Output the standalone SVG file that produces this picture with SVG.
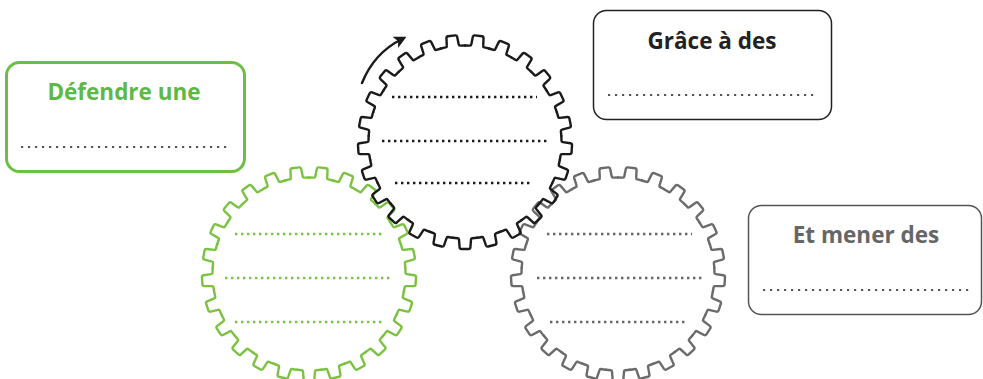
<svg xmlns="http://www.w3.org/2000/svg" xmlns:xlink="http://www.w3.org/1999/xlink" width="983" height="379" viewBox="0 0 983 379">
<style>
.gear{fill:none;stroke-linejoin:round;stroke-linecap:round}
.g-black{stroke:#1a1a1a;stroke-width:2.4}
.g-green{stroke:#7cc242;stroke-width:2.4}
.g-gray{stroke:#6b6b6b;stroke-width:2.4}
.dots{fill:none;stroke-width:2.4;stroke-dasharray:2.4 3.6}
.bdots{fill:none;stroke:#555;stroke-width:2.2;stroke-dasharray:2.2 4.8}
.box{fill:#fff}
.lbl{font-family:"Open Sans","Noto Sans",sans-serif;font-weight:700;font-size:22.5px;text-anchor:middle}
</style>
<defs>
<path id="seg" d="M -12.09,-95.74 A 96.5 96.5 0 0 1 -7.2,-96.23 Q -6,-96.31 -6,-97.6 L -5.4,-105.3 Q -5.2,-107 -3.6,-107 L 3.6,-107 Q 5.2,-107 5.4,-105.3 L 6,-97.6 Q 6,-96.31 7.2,-96.23 A 96.5 96.5 0 0 1 12.09,-95.74"/>
<g id="gearShape">
<use xlink:href="#seg" transform="rotate(7.2)"/><use xlink:href="#seg" transform="rotate(21.6)"/><use xlink:href="#seg" transform="rotate(36)"/><use xlink:href="#seg" transform="rotate(50.4)"/><use xlink:href="#seg" transform="rotate(64.8)"/><use xlink:href="#seg" transform="rotate(79.2)"/><use xlink:href="#seg" transform="rotate(93.6)"/><use xlink:href="#seg" transform="rotate(108)"/><use xlink:href="#seg" transform="rotate(122.4)"/><use xlink:href="#seg" transform="rotate(136.8)"/><use xlink:href="#seg" transform="rotate(151.2)"/><use xlink:href="#seg" transform="rotate(165.6)"/><use xlink:href="#seg" transform="rotate(180)"/><use xlink:href="#seg" transform="rotate(194.4)"/><use xlink:href="#seg" transform="rotate(208.8)"/><use xlink:href="#seg" transform="rotate(223.2)"/><use xlink:href="#seg" transform="rotate(237.6)"/><use xlink:href="#seg" transform="rotate(252)"/><use xlink:href="#seg" transform="rotate(266.4)"/><use xlink:href="#seg" transform="rotate(280.8)"/><use xlink:href="#seg" transform="rotate(295.2)"/><use xlink:href="#seg" transform="rotate(309.6)"/><use xlink:href="#seg" transform="rotate(324)"/><use xlink:href="#seg" transform="rotate(338.4)"/><use xlink:href="#seg" transform="rotate(352.8)"/>
</g>
<marker id="ah" viewBox="0 0 10 10" refX="6" refY="5" markerWidth="5" markerHeight="5" orient="auto" markerUnits="strokeWidth">
<path d="M0,0 L10,5 L0,10 L2.5,5 Z" fill="#1a1a1a"/>
</marker>
</defs>

<g id="gear-green">
<g class="gear g-green" transform="translate(309,274)"><use xlink:href="#gearShape"/></g>
<line class="dots" stroke="#7cc242" x1="235" y1="234" x2="382" y2="234"/>
<line class="dots" stroke="#7cc242" x1="225" y1="278" x2="392" y2="278"/>
<line class="dots" stroke="#7cc242" x1="235" y1="322" x2="382" y2="322"/>
</g>

<g id="gear-gray">
<g class="gear g-gray" transform="translate(618,274)"><use xlink:href="#gearShape"/></g>
<line class="dots" stroke="#666" x1="547" y1="234" x2="692" y2="234"/>
<line class="dots" stroke="#666" x1="537" y1="278" x2="702" y2="278"/>
<line class="dots" stroke="#666" x1="550" y1="322" x2="688" y2="322"/>
</g>

<g id="gear-black">
<g class="gear g-black" transform="translate(465,142)"><use xlink:href="#gearShape"/></g>
<line class="dots" stroke="#1a1a1a" x1="392" y1="97" x2="537" y2="97"/>
<line class="dots" stroke="#1a1a1a" x1="382" y1="141" x2="547" y2="141"/>
<line class="dots" stroke="#1a1a1a" x1="395" y1="183" x2="533" y2="183"/>
</g>

<g id="box-defendre">
<rect class="box" x="6.5" y="62.5" width="238" height="109" rx="13" stroke="#6cbf45" stroke-width="3"/>
<text class="lbl" x="124" y="100" fill="#5cb946">Défendre une</text>
<line class="bdots" x1="21" y1="147" x2="231" y2="147"/>
</g>

<g id="box-grace">
<rect class="box" x="593.5" y="10.5" width="238" height="109" rx="13" stroke="#222" stroke-width="1.5"/>
<text class="lbl" x="712" y="49" fill="#222">Grâce à des</text>
<line class="bdots" x1="608" y1="95" x2="818" y2="95"/>
</g>

<g id="box-mener">
<rect class="box" x="748.5" y="205.5" width="233" height="109" rx="13" stroke="#555" stroke-width="1.5"/>
<text class="lbl" x="866" y="243" fill="#666">Et mener des</text>
<line class="bdots" x1="763" y1="290" x2="973" y2="290"/>
</g>

<g id="connectors">
<path d="M 362,83 Q 374,53 402,39" fill="none" stroke="#1a1a1a" stroke-width="2.5" stroke-linecap="round" marker-end="url(#ah)"/>
</g>
</svg>
